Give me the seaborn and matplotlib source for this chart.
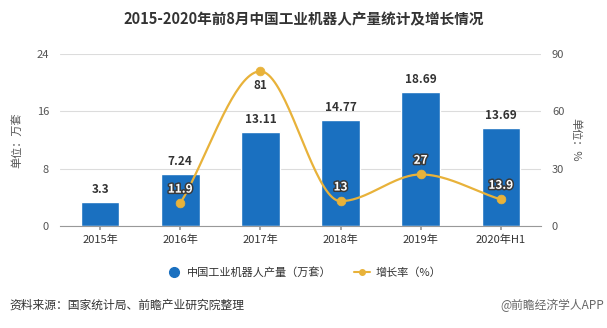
import numpy as np
import pandas as pd
import matplotlib
matplotlib.use("Agg")
import matplotlib.pyplot as plt
import matplotlib.patheffects as pe
from matplotlib.lines import Line2D
import seaborn as sns

categories = ["2015年", "2016年", "2017年", "2018年", "2019年", "2020年H1"]
production = [3.3, 7.24, 13.11, 14.77, 18.69, 13.69]
growth_categories = ["2016年", "2017年", "2018年", "2019年", "2020年H1"]
growth = [11.9, 81, 13, 27, 13.9]
growth_labels = ["11.9", "81", "13", "27", "13.9"]

sns.set_theme(style="white")
plt.rcParams['font.family'] = ['Noto Sans CJK SC', 'DejaVu Sans']

BAR = "#1a70c0"
LINE = "#e8b23a"
TXT = "#333333"

fig = plt.figure(figsize=(6.07, 3.28), dpi=100)
ax = fig.add_axes([0.099, 0.311, 0.792, 0.524])

df = pd.DataFrame({"cat": categories, "val": production})
sns.barplot(data=df, x="cat", y="val", color=BAR, width=0.48, saturation=1, ax=ax)
ax.set_ylim(0, 24)
ax.set_xlim(-0.5, len(categories) - 0.5)
ax.set_yticks([0, 8, 16, 24])
ax.grid(axis="y", color="#dcdcdc", linewidth=0.8)
ax.set_axisbelow(True)
for s in ["top", "right", "left"]:
    ax.spines[s].set_visible(False)
ax.spines["bottom"].set_color("#999999")
ax.spines["bottom"].set_linewidth(0.8)
ax.tick_params(axis="x", length=3, color="#999999", labelsize=8, labelcolor=TXT, pad=3, bottom=True)
ax.tick_params(axis="y", length=0, labelsize=8, labelcolor="#555555", pad=8)
ax.set_xlabel("")
ax.set_ylabel("单位：万套", fontsize=8, color="#555555", labelpad=10)

for i, v in enumerate(production):
    ax.text(i, v + 0.9, f"{v:g}", ha="center", va="bottom", fontsize=8.5,
            fontweight="bold", color=TXT)

ax2 = ax.twinx()
ax2.set_ylim(0, 90)
ax2.set_yticks([0, 30, 60, 90])
for s in ["top", "right", "left", "bottom"]:
    ax2.spines[s].set_visible(False)
ax2.tick_params(axis="y", length=0, labelsize=8, labelcolor="#555555", pad=8)
ax2.set_ylabel("单位：%", fontsize=8, color="#555555", rotation=270, labelpad=12)
ax2.grid(False)

gx = np.array([categories.index(c) for c in growth_categories], dtype=float)
gy = np.array(growth, dtype=float)

# smooth (Catmull-Rom style Bezier) path through the data points
n = len(gx)
tang = np.zeros(n)
for i in range(n):
    if i == 0:
        tang[i] = (gy[1] - gy[0])
    elif i == n - 1:
        tang[i] = (gy[-1] - gy[-2])
    else:
        tang[i] = (gy[i + 1] - gy[i - 1]) / 2
    if 0 < i < n - 1 and ((gy[i] - gy[i - 1]) * (gy[i + 1] - gy[i]) < 0):
        tang[i] = 0
xs, ys = [], []
t = np.linspace(0, 1, 40)
for i in range(n - 1):
    x0, x1 = gx[i], gx[i + 1]
    y0, y1 = gy[i], gy[i + 1]
    c0x, c0y = x0 + (x1 - x0) / 3, y0 + tang[i] / 3
    c1x, c1y = x1 - (x1 - x0) / 3, y1 - tang[i + 1] / 3
    bx = (1 - t) ** 3 * x0 + 3 * (1 - t) ** 2 * t * c0x + 3 * (1 - t) * t ** 2 * c1x + t ** 3 * x1
    by = (1 - t) ** 3 * y0 + 3 * (1 - t) ** 2 * t * c0y + 3 * (1 - t) * t ** 2 * c1y + t ** 3 * y1
    xs.extend(bx); ys.extend(by)
ax2.plot(xs, ys, color=LINE, linewidth=1.6, zorder=3)
sns.scatterplot(x=gx, y=gy, color=LINE, s=40, edgecolor=LINE, zorder=4, ax=ax2, legend=False)

stroke = [pe.withStroke(linewidth=2.2, foreground="#3a3a3a")]
for x, y, lab in zip(gx, gy, growth_labels):
    if y > 60:
        ax2.text(x, y - 4, lab, ha="center", va="top", fontsize=8.5, fontweight="bold", color=TXT)
    else:
        ax2.text(x, y + 4, lab, ha="center", va="bottom", fontsize=8.5, fontweight="bold",
                 color="white", path_effects=stroke)

fig.text(0.5, 0.94, "2015-2020年前8月中国工业机器人产量统计及增长情况", ha="center", va="center",
         fontsize=10.5, fontweight="bold", color=TXT)

handles = [
    Line2D([], [], marker="o", linestyle="none", markersize=7, color=BAR),
    Line2D([], [], marker="o", linestyle="-", markersize=4, color=LINE, linewidth=1.5),
]
fig.legend(handles, ["中国工业机器人产量（万套）", "增长率（%）"], loc="center",
           bbox_to_anchor=(0.5, 0.17), ncol=2, frameon=False, fontsize=8,
           handlelength=1.4, columnspacing=2.0, handletextpad=0.5, labelcolor=TXT)

fig.text(0.015, 0.07, "资料来源：国家统计局、前瞻产业研究院整理", ha="left", va="center",
         fontsize=8.5, color=TXT)
fig.text(0.995, 0.07, "@前瞻经济学人APP", ha="right", va="center", fontsize=8.5, color="#666666")

fig.savefig("out.png", dpi=100)
